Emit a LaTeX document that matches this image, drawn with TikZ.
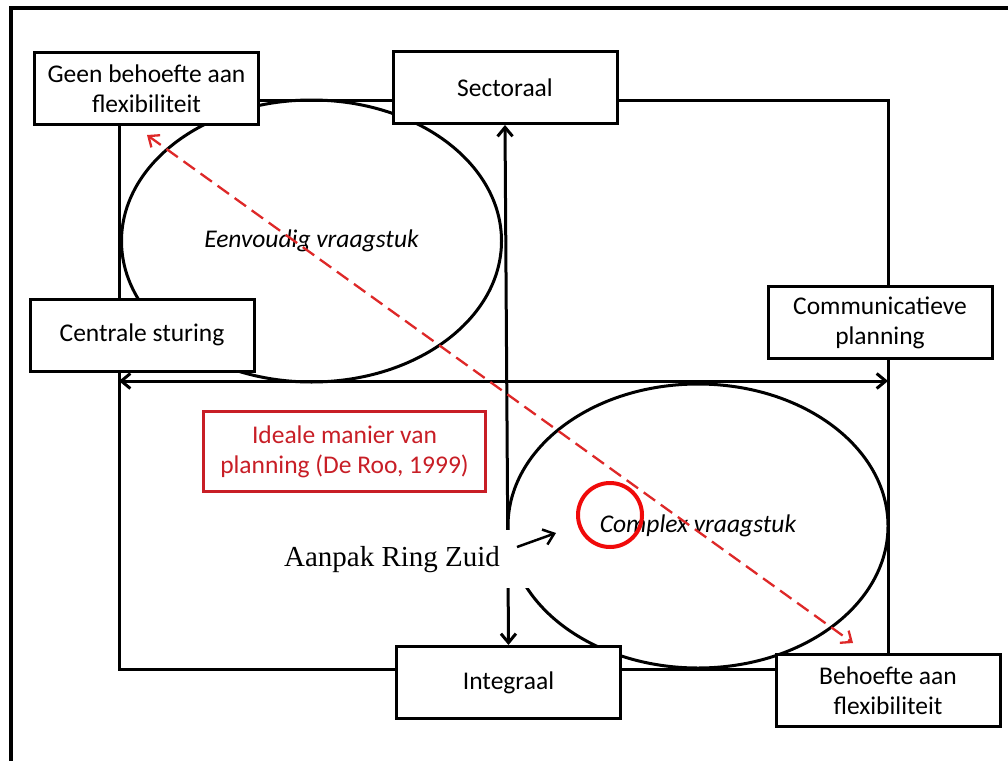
\documentclass[tikz,border=0pt]{standalone}
\usepackage{fontspec}
\setmainfont{Carlito}
\newfontfamily\timesf{Liberation Serif}
\usetikzlibrary{arrows.meta,shapes.geometric}
\definecolor{boxred}{RGB}{200,30,38}
\definecolor{dashred}{RGB}{222,40,40}
\definecolor{ringred}{RGB}{240,10,10}
\tikzset{
  quadbox/.style={draw=black, line width=3pt, fill=white, minimum width=224pt,
    minimum height=72pt, align=center, inner sep=0pt, font=\fontsize{25.5}{30}\selectfont},
  ell/.style={ellipse, draw=black, line width=3pt, inner sep=0pt,
    font=\itshape\fontsize{25.5}{30}\selectfont},
  barb/.style={line width=3pt,
    {Straight Barb[length=9pt,width=15pt]}-{Straight Barb[length=9pt,width=15pt]}},
  onebarb/.style={line width=2.5pt, -{Straight Barb[length=10pt,width=16pt]}},
  redarrow/.style={draw=dashred, line width=2.3pt, dash pattern=on 14pt off 7pt,
    {Straight Barb[length=9pt,width=15pt]}-{Straight Barb[length=9pt,width=15pt]}},
}
\begin{document}
\begin{tikzpicture}[x=1pt,y=-1pt]
\useasboundingbox (0,0) rectangle (1008,760);
\fill[white] (0,0) rectangle (1008,760);
% outer frame (only left and top visible)
\draw[line width=4.5pt] (11,780) -- (11,8) -- (1030,8);
% inner quadrant rectangle
\draw[line width=3pt] (119,100) rectangle (888,669);
% ellipses
\node[ell, minimum width=380pt, minimum height=282pt] (simple) at (311.5,241) {Eenvoudig vraagstuk};
\node[ell, minimum width=380pt, minimum height=284pt] (complex) at (698,526) {Complex vraagstuk};
% boxes
\node[quadbox] (geen) at (146.5,88.5) {Geen behoefte aan\\flexibiliteit};
\node[quadbox] (sect) at (505,87.5) {Sectoraal};
\node[quadbox] (centr) at (142,335) {Centrale sturing};
\node[quadbox] (comm) at (880,322.5) {Communicatieve\\planning};
\node[quadbox] (beh) at (888,690.5) {Behoefte aan\\flexibiliteit};
\node[quadbox] (integ) at (508.5,682.5) {Integraal};
\node[quadbox, draw=boxred, text=boxred, minimum width=282pt, minimum height=80pt] (ideal) at (344.5,451.5) {Ideale manier van\\planning (De Roo, 1999)};
% axes
\coordinate (hl) at (119,381);
\coordinate (hr) at (888,381);
\draw[barb] (hl) -- (hr);
\draw[barb] (sect.south) -- (integ.north);
% red dashed diagonal
\coordinate (d1) at (147,135);
\coordinate (d2) at (853,643);
\draw[redarrow] (d1) -- (d2);
% Aanpak Ring Zuid label with white mask
\fill[white] (268,530) rectangle (530,588);
\node[font=\timesf\fontsize{29}{34}\selectfont, inner sep=0pt] (aanpak) at (392,560) {Aanpak Ring Zuid};
\node[circle, draw=ringred, line width=4pt, minimum size=64pt, inner sep=0pt] (ring) at (610,515) {};
\coordinate (as) at (517,547);
\coordinate (ae) at (556,533);
\draw[onebarb] (as) -- (ae);
\end{tikzpicture}
\end{document}
